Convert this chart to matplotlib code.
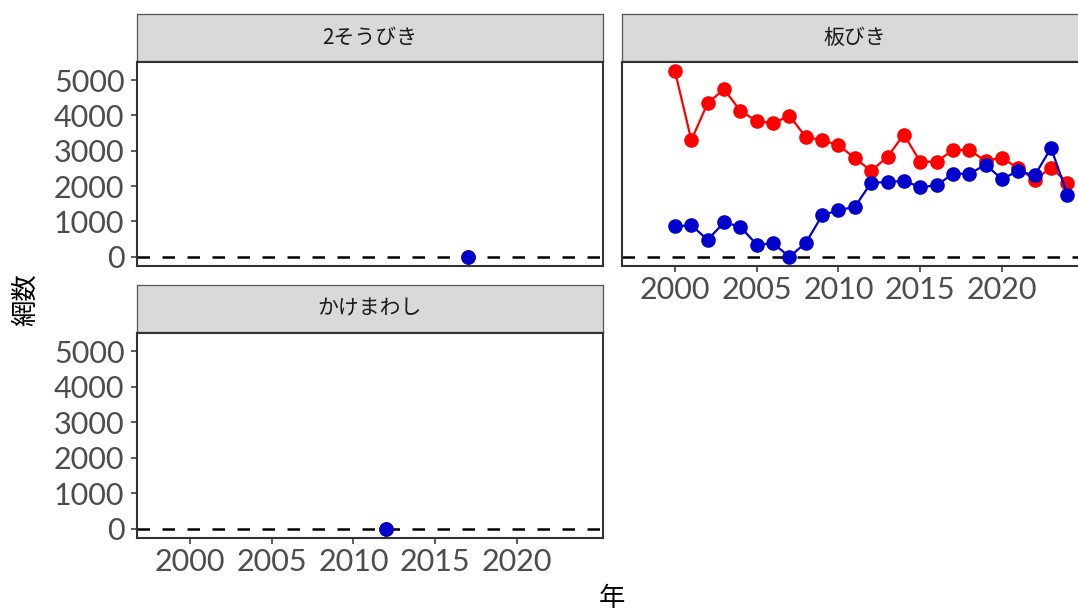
import matplotlib
matplotlib.use("Agg")
import matplotlib.pyplot as plt
import numpy as np

plt.rcParams["font.family"] = ["Noto Sans CJK JP", "DejaVu Sans"]

# ---- data -------------------------------------------------------------
YEARS = list(range(2000, 2025))

# 板びき
itabiki_red = [5250, 3300, 4350, 4740, 4130, 3840, 3780, 3990, 3390, 3300,
               3160, 2790, 2430, 2830, 3460, 2690, 2690, 3020, 3020, 2710,
               2800, 2500, 2180, 2520, 2100]
itabiki_blue = [860, 890, 480, 970, 850, 340, 380, 0, 390, 1170,
                1320, 1410, 2100, 2110, 2150, 1970, 2020, 2350, 2350, 2600,
                2200, 2430, 2300, 3080, 1760]

# 2そうびき / かけまわし : single observation each
nisou_years = [2017]
nisou_red = [0]
nisou_blue = [0]

kake_years = [2012]
kake_red = [0]
kake_blue = [0]

PANELS = ["2そうびき", "板びき", "かけまわし"]
Y_TICKS = [0, 1000, 2000, 3000, 4000, 5000]
X_TICKS = [2000, 2005, 2010, 2015, 2020]

RED = "#FF0000"
BLUE = "#0000CD"
DARK = "#333333"
TICK_FONT = ["Lato", "Open Sans", "DejaVu Sans"]

W, H = 1078, 613


def rect(x0, y0, x1, y1):
    return [x0 / W, 1 - y1 / H, (x1 - x0) / W, (y1 - y0) / H]


def strip(fig, box, label):
    ax = fig.add_axes(rect(*box))
    ax.set_facecolor("#D9D9D9")
    ax.set_xticks([])
    ax.set_yticks([])
    for s in ax.spines.values():
        s.set_color("#555555")
        s.set_linewidth(0.9)
    ax.text(0.5, 0.5, label, ha="center", va="center", fontsize=15,
            color="#1A1A1A", transform=ax.transAxes)


def panel(fig, box, years, red, blue, show_x, show_y):
    ax = fig.add_axes(rect(*box))
    ax.axhline(0, color="black", linewidth=1.8, linestyle=(0, (5, 5)), zorder=1)
    for vals, col in ((red, RED), (blue, BLUE)):
        ax.plot(years, vals, color=col, linewidth=1.6, marker="o",
                markersize=9.5, zorder=3, clip_on=False)
    ax.set_xlim(1996.76, 2025.26)
    ax.set_ylim(-262.5, 5512.5)
    ax.set_xticks(X_TICKS)
    ax.set_yticks(Y_TICKS)
    ax.tick_params(colors=DARK, labelcolor="#4D4D4D", labelsize=22,
                   length=4, width=1.1)
    ax.tick_params(axis="y", pad=5)
    ax.tick_params(axis="x", pad=3)
    for lab in ax.get_xticklabels() + ax.get_yticklabels():
        lab.set_fontfamily(TICK_FONT)
        lab.set_fontweight("normal")
    if not show_x:
        ax.tick_params(axis="x", length=0, labelbottom=False)
    if not show_y:
        ax.tick_params(axis="y", length=0, labelleft=False)
    for s in ax.spines.values():
        s.set_color(DARK)
        s.set_linewidth(1.5)
        s.set_zorder(4)
    return ax


fig = plt.figure(figsize=(W / 100, H / 100), dpi=100)

strip(fig, (137, 14, 603, 61), PANELS[0])
panel(fig, (137, 62, 603, 266), nisou_years, nisou_red, nisou_blue, False, True)

strip(fig, (622, 14, 1088, 61), PANELS[1])
panel(fig, (622, 62, 1088, 266), YEARS, itabiki_red, itabiki_blue, True, False)

strip(fig, (137, 285, 603, 332), PANELS[2])
panel(fig, (137, 333, 603, 538), kake_years, kake_red, kake_blue, True, True)

fig.text(612 / W, 1 - 598 / H, "年", ha="center", va="center", fontsize=19)
fig.text(26 / W, 1 - 300 / H, "網数", ha="center", va="center", fontsize=19,
         rotation=90)

fig.savefig("out.png", dpi=100)
